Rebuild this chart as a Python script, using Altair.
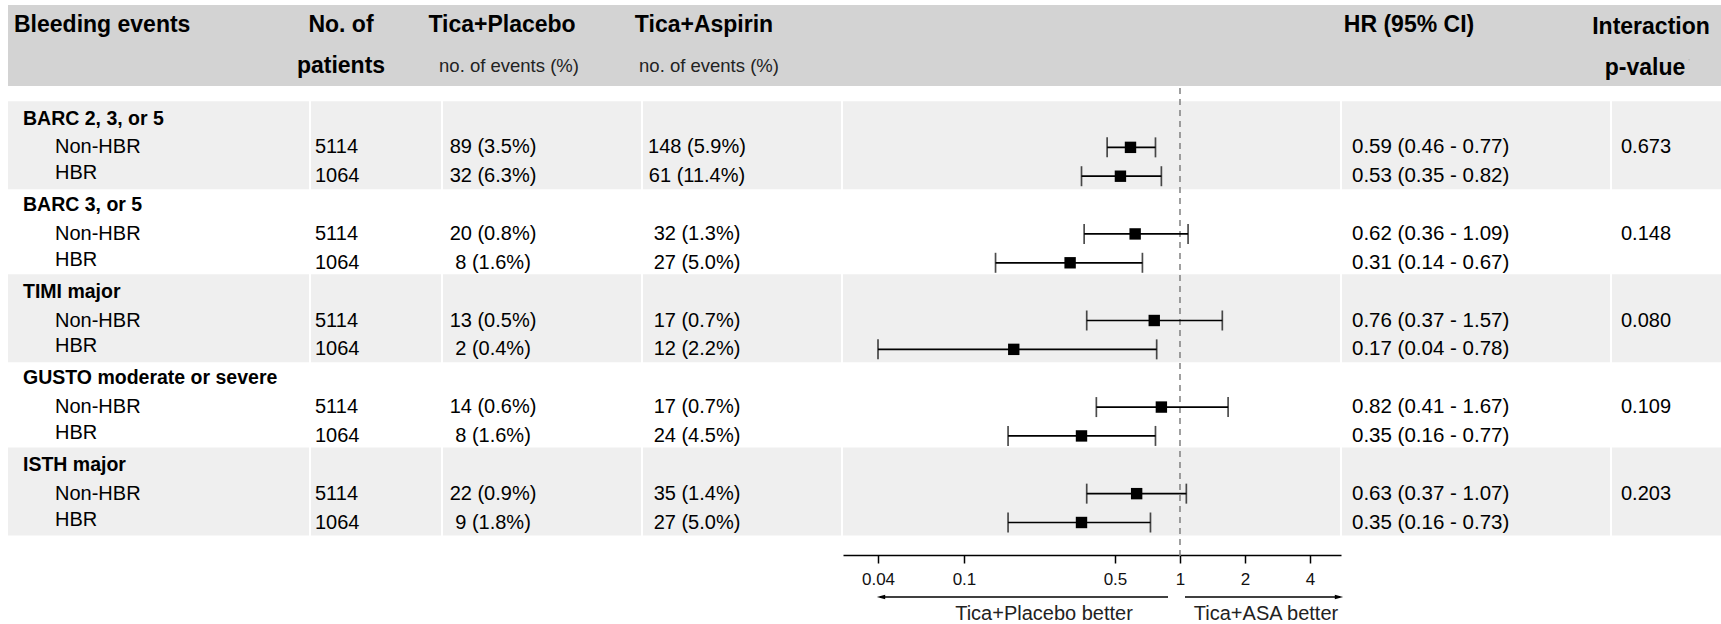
import altair as alt
import pandas as pd

# ---------------- data ----------------
groups = ["BARC 2, 3, or 5", "BARC 3, or 5", "TIMI major",
          "GUSTO moderate or severe", "ISTH major"]
subgroups = ["Non-HBR", "HBR"]
n_patients = [5114, 1064]
placebo_events = [[89, 32], [20, 8], [13, 2], [14, 8], [22, 9]]
placebo_pct = [[3.5, 6.3], [0.8, 1.6], [0.5, 0.4], [0.6, 1.6], [0.9, 1.8]]
aspirin_events = [[148, 61], [32, 27], [17, 12], [17, 24], [35, 27]]
aspirin_pct = [[5.9, 11.4], [1.3, 5.0], [0.7, 2.2], [0.7, 4.5], [1.4, 5.0]]
hr = [[0.59, 0.53], [0.62, 0.31], [0.76, 0.17], [0.82, 0.35], [0.63, 0.35]]
hr_lo = [[0.46, 0.35], [0.36, 0.14], [0.37, 0.04], [0.41, 0.16], [0.37, 0.16]]
hr_hi = [[0.77, 0.82], [1.09, 0.67], [1.57, 0.78], [1.67, 0.77], [1.07, 0.73]]
p_interaction = ["0.673", "0.148", "0.080", "0.109", "0.203"]
tick_values = [0.04, 0.1, 0.5, 1, 2, 4]

# ---------------- tables ----------------
grp_rows, sub_rows = [], []
for g, name in enumerate(groups):
    grp_rows.append({"row": 3 * g, "label": name, "p": p_interaction[g], "g": g})
    for s, sname in enumerate(subgroups):
        sub_rows.append({
            "row": 3 * g + 1 + s,
            "label": sname,
            "n": str(n_patients[s]),
            "plc": f"{placebo_events[g][s]} ({placebo_pct[g][s]:.1f}%)",
            "asa": f"{aspirin_events[g][s]} ({aspirin_pct[g][s]:.1f}%)",
            "hrtxt": f"{hr[g][s]:.2f} ({hr_lo[g][s]:.2f} - {hr_hi[g][s]:.2f})",
            "hr": hr[g][s], "lo": hr_lo[g][s], "hi": hr_hi[g][s],
        })
grp_df = pd.DataFrame(grp_rows)
sub_df = pd.DataFrame(sub_rows)
band_df = pd.DataFrame([{"top": 3 * g - 0.6, "bottom": 3 * g + 2.45}
                        for g in range(0, len(groups), 2)])
caps_df = pd.concat([sub_df[["row", "lo"]].rename(columns={"lo": "v"}),
                     sub_df[["row", "hi"]].rename(columns={"hi": "v"})])
one = pd.DataFrame({"a": [0]})

FONT = "Liberation Sans"
yscale = alt.Scale(domain=[0, 14], range=[118.5, 522.5], nice=False, zero=False)
xscale = alt.Scale(type="log", domain=[0.027543, 5.5631], range=[843, 1341], nice=False)
AX = alt.Axis(values=tick_values, format="~g", offset=-69, grid=False,
              domainColor="black", domainWidth=1.5, tickColor="black",
              tickWidth=1.5, tickSize=8, labelFont=FONT, labelFontSize=17,
              labelColor="#111", labelPadding=8, title=None,
              labelFlush=False, labelOverlap=False)


def Y(field):
    return alt.Y(f"{field}:Q", scale=yscale, axis=None)


def X(field):
    return alt.X(f"{field}:Q", scale=xscale, axis=AX)


layers = []
# header band
layers.append(alt.Chart(one).mark_rect(color="#d3d3d3").encode(
    x=alt.value(8), x2=alt.value(1721), y=alt.value(5), y2=alt.value(86)))
# group bands
layers.append(alt.Chart(band_df).mark_rect(color="#efefef").encode(
    x=alt.value(8), x2=alt.value(1721), y=Y("top"), y2="bottom:Q"))
# white column separators
for xs in [310, 442, 642, 842, 1341, 1611]:
    layers.append(alt.Chart(one).mark_rule(color="white", strokeWidth=2).encode(
        x=alt.value(xs), y=alt.value(95), y2=alt.value(545)))


def header(text, x, y, size=23, weight="bold", align="center", color="black"):
    return alt.Chart(pd.DataFrame({"t": [text]})).mark_text(
        align=align, baseline="middle", font=FONT, fontSize=size,
        fontWeight=weight, color=color).encode(
        x=alt.value(x), y=alt.value(y), text="t:N")


layers += [
    header("Bleeding events", 14, 25, align="left"),
    header("No. of", 341, 25),
    header("patients", 341, 66),
    header("Tica+Placebo", 502, 25),
    header("no. of events (%)", 509, 66, size=18.5, weight="normal", color="#222"),
    header("Tica+Aspirin", 704, 25),
    header("no. of events (%)", 709, 66, size=18.5, weight="normal", color="#222"),
    header("HR (95% CI)", 1409, 25),
    header("Interaction", 1651, 27),
    header("p-value", 1645, 68),
    header("'", 1689, 62, size=8, weight="normal", color="#aaaaaa"),
]


def col(df, field, x, align="left", size=20, weight="normal", dy=0):
    return alt.Chart(df).mark_text(
        align=align, baseline="middle", font=FONT, fontSize=size,
        fontWeight=weight, color="black", dy=dy).encode(
        x=alt.value(x), y=Y("row"), text=f"{field}:N")


layers += [
    col(grp_df, "label", 23, size=19.5, weight="bold"),
    col(grp_df.assign(row=grp_df["row"] + 1), "p", 1621),
    col(sub_df[sub_df["label"] == "Non-HBR"], "label", 55),
    col(sub_df[sub_df["label"] == "HBR"], "label", 55, dy=-3),
    col(sub_df, "n", 315),
    col(sub_df, "plc", 493, align="center"),
    col(sub_df, "asa", 697, align="center"),
    col(sub_df, "hrtxt", 1352, size=20.5),
]

# reference line at HR = 1
layers.append(alt.Chart(one).mark_rule(color="#808080", strokeWidth=1.5,
                                      strokeDash=[6, 5]).encode(
    x=alt.X("a:Q", scale=xscale, axis=AX), y=alt.value(88), y2=alt.value(558)
).transform_calculate(a="1"))

# forest plot
layers.append(alt.Chart(sub_df).mark_rule(color="black", strokeWidth=1.7).encode(
    x=X("lo"), x2="hi:Q", y=Y("row")))
layers.append(alt.Chart(caps_df).mark_tick(color="black", orient="vertical",
                                           size=20, thickness=1.7).encode(
    x=X("v"), y=Y("row")))
layers.append(alt.Chart(sub_df).mark_square(color="black", size=130, opacity=1,
                                            filled=True).encode(
    x=X("hr"), y=Y("row")))

# arrows under the axis
ARROW_Y = 597
layers.append(alt.Chart(one).mark_rule(color="black", strokeWidth=1.5).encode(
    x=alt.value(880), x2=alt.value(1168), y=alt.value(ARROW_Y)))
layers.append(alt.Chart(one).mark_rule(color="black", strokeWidth=1.5).encode(
    x=alt.value(1185), x2=alt.value(1340), y=alt.value(ARROW_Y)))
layers.append(alt.Chart(one).mark_point(shape="M-1,0L1,-0.55L1,0.55Z", filled=True,
                                        color="black", opacity=1, size=70).encode(
    x=alt.value(881), y=alt.value(ARROW_Y)))
layers.append(alt.Chart(one).mark_point(shape="M1,0L-1,-0.55L-1,0.55Z", filled=True,
                                        color="black", opacity=1, size=70).encode(
    x=alt.value(1339), y=alt.value(ARROW_Y)))
layers += [
    header("Tica+Placebo better", 1044, 614, size=20, weight="normal", color="#222"),
    header("Tica+ASA better", 1266, 614, size=20, weight="normal", color="#222"),
]

chart = alt.layer(*layers).properties(
    width=1721, height=624, autosize=alt.AutoSizeParams(type="none"),
    padding=0, background="white"
).configure_view(stroke=None)

chart.save("out.html", embed_options={"renderer": "svg", "actions": False})
